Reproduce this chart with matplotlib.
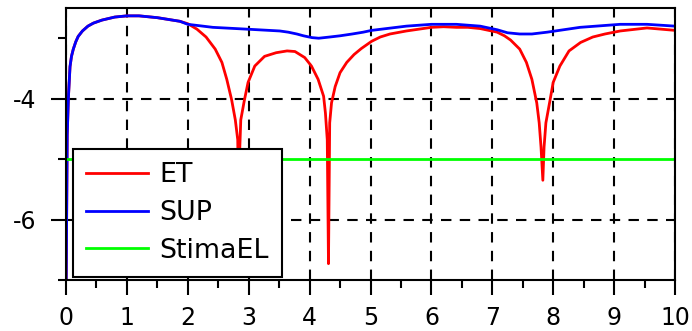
import matplotlib
matplotlib.use("Agg")
import matplotlib.pyplot as plt
from matplotlib.ticker import MultipleLocator, FixedLocator

# curves
x_sup = [0, 0.02, 0.04, 0.066, 0.09, 0.12, 0.16, 0.2, 0.27, 0.36, 0.45, 0.59, 0.8, 1.0,
         1.2, 1.5, 1.87, 2.0, 2.41, 2.97, 3.51, 3.65, 3.79, 3.9, 4.04, 4.15, 4.33, 4.5,
         4.7, 4.88, 5.02, 5.59, 6.0, 6.41, 6.8, 7.08, 7.25, 7.45, 7.65, 7.9, 8.44, 9.1,
         9.54, 10]
y_sup = [-7.5, -4.6, -3.97, -3.47, -3.3, -3.18, -3.06, -2.97, -2.88, -2.8, -2.75, -2.7,
         -2.65, -2.63, -2.63, -2.66, -2.72, -2.77, -2.82, -2.85, -2.88, -2.9, -2.93, -2.96,
         -2.99, -3.0, -2.98, -2.96, -2.93, -2.9, -2.87, -2.8, -2.77, -2.77, -2.8, -2.86,
         -2.91, -2.93, -2.93, -2.9, -2.82, -2.77, -2.77, -2.8]

x_et = [0, 0.02, 0.04, 0.066, 0.09, 0.12, 0.16, 0.2, 0.27, 0.36, 0.45, 0.59, 0.8, 1.0,
        1.2, 1.5, 1.87, 2.0, 2.15, 2.3, 2.45, 2.56, 2.64, 2.72, 2.78, 2.82, 2.83, 2.87,
        2.93, 2.99, 3.1, 3.26, 3.45, 3.63, 3.76, 3.92, 4.03, 4.14, 4.23, 4.26, 4.29,
        4.31, 4.33, 4.36, 4.42, 4.5, 4.61, 4.73, 4.85, 5.02, 5.16, 5.32, 5.59, 6.0,
        6.2, 6.41, 6.6, 6.8, 7.08, 7.2, 7.3, 7.45, 7.56, 7.65, 7.73, 7.77, 7.8, 7.83,
        7.85, 7.88, 7.94, 8.0, 8.11, 8.26, 8.45, 8.65, 8.85, 9.1, 9.54, 10]
y_et = [-7.5, -4.6, -3.97, -3.47, -3.3, -3.18, -3.06, -2.97, -2.88, -2.8, -2.75, -2.7,
        -2.65, -2.63, -2.63, -2.66, -2.72, -2.76, -2.85, -2.98, -3.18, -3.4, -3.68,
        -4.02, -4.35, -4.68, -5.5, -4.35, -4.02, -3.73, -3.46, -3.3, -3.24, -3.21,
        -3.22, -3.32, -3.46, -3.68, -3.96, -4.24, -4.68, -6.73, -4.4, -4.07, -3.8,
        -3.57, -3.4, -3.27, -3.17, -3.05, -2.98, -2.93, -2.88, -2.82, -2.81, -2.82,
        -2.82, -2.84, -2.9, -2.96, -3.03, -3.18, -3.4, -3.68, -4.07, -4.4, -4.8, -5.35,
        -4.8, -4.4, -4.07, -3.73, -3.46, -3.21, -3.07, -2.98, -2.93, -2.88, -2.83, -2.87]

x_stima = [0, 10]
y_stima = [-5, -5]

fig = plt.figure(figsize=(6.92, 3.31), dpi=100)
ax = fig.add_axes([66 / 692, 51 / 331, 609 / 692, 272 / 331])

ax.plot(x_et, y_et, color="#ff0000", lw=2, label="ET", solid_joinstyle="round")
ax.plot(x_sup, y_sup, color="#0000ff", lw=2, label="SUP", solid_joinstyle="round")
ax.plot(x_stima, y_stima, color="#00ff00", lw=2, label="StimaEL")

ax.set_xlim(0, 10)
ax.set_ylim(-7, -2.5)

ax.xaxis.set_major_locator(MultipleLocator(1))
ax.xaxis.set_minor_locator(MultipleLocator(0.5))
ax.yaxis.set_major_locator(FixedLocator([-6, -4]))
ax.yaxis.set_minor_locator(FixedLocator([-7, -5, -3]))
ax.set_yticklabels(["-6", "-4"])

ax.tick_params(which="major", length=11, width=1.5, labelsize=17)
ax.tick_params(axis="x", which="major", pad=8)
ax.tick_params(axis="y", which="major", pad=10)
ax.tick_params(which="minor", length=5.5, width=1.5)
ax.tick_params(top=False, right=False)

for sp in ax.spines.values():
    sp.set_linewidth(1.5)

ax.grid(True, which="major", color="black", linestyle=(0, (5, 4)), linewidth=1.5)

leg = ax.legend(loc="lower left", bbox_to_anchor=(0.0115, 0.011), borderaxespad=0,
                fontsize=19.4, frameon=True, fancybox=False, framealpha=1,
                edgecolor="black", handlelength=2.3, handletextpad=0.4,
                labelspacing=0.43, borderpad=0.5)
leg.get_frame().set_linewidth(1.5)

fig.savefig("out.png", dpi=100)
